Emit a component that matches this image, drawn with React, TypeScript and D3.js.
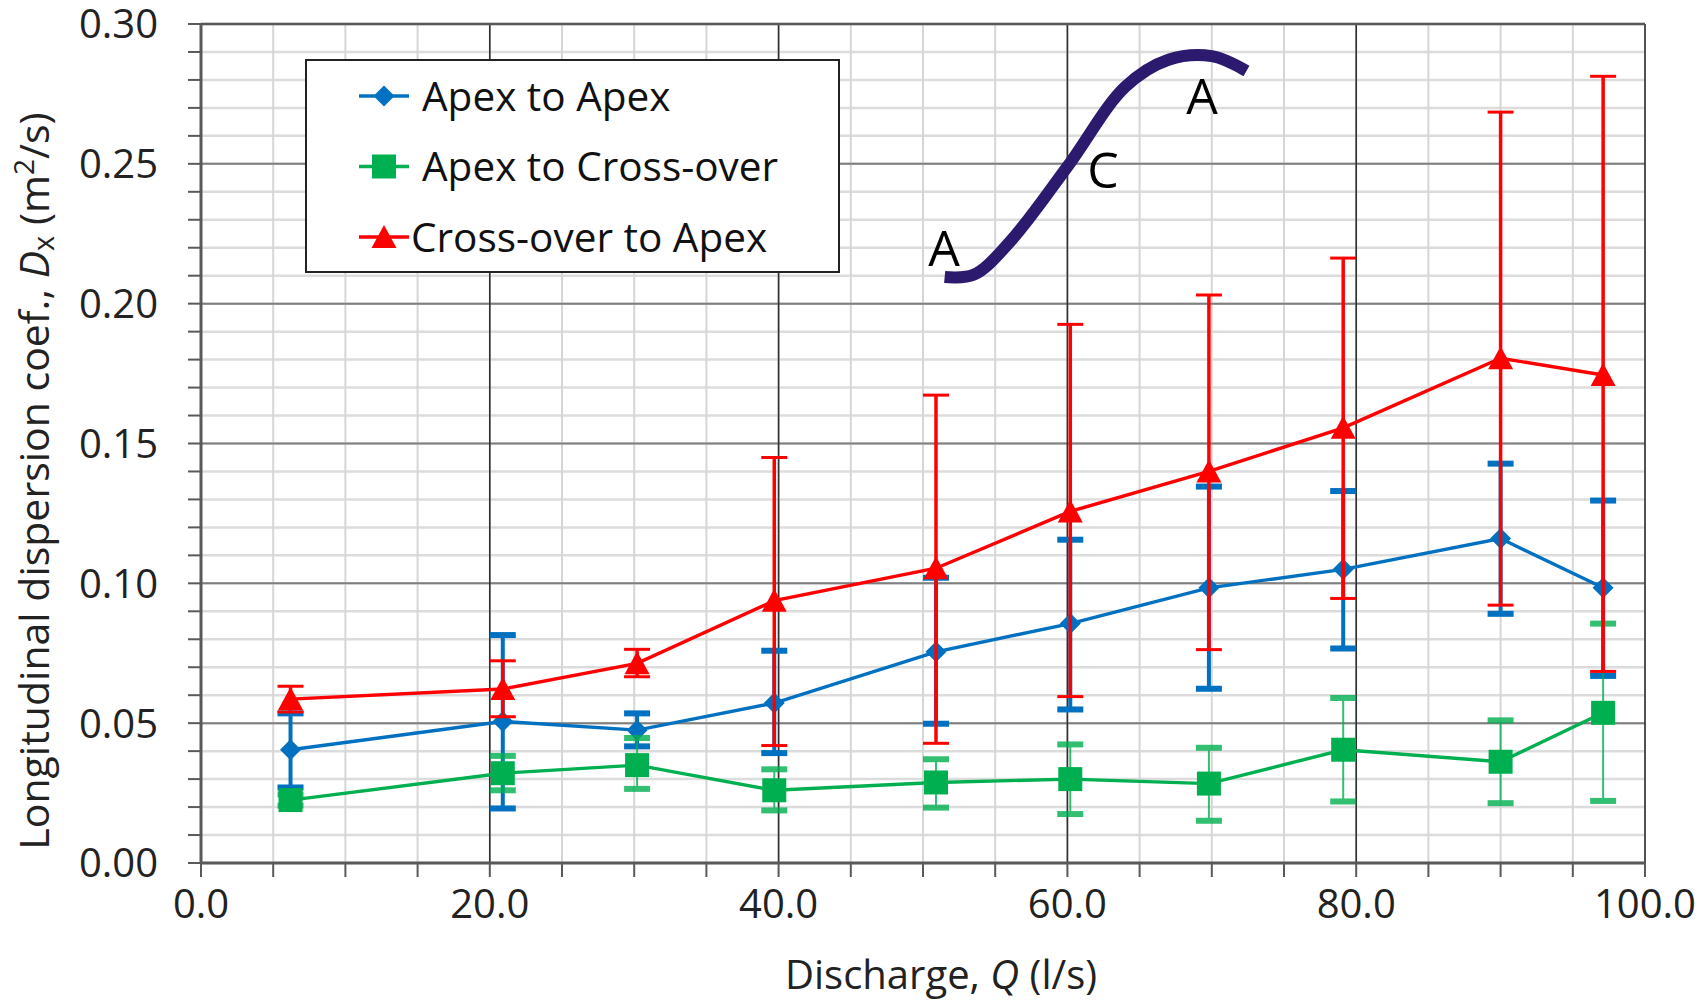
import * as d3 from 'd3';
import { FC } from 'react';

// discharge Q (l/s) for each run
const discharge = [6.2, 20.9, 30.2, 39.7, 50.9, 60.2, 69.8, 79.1, 90.0, 97.1];

// Apex to Apex
const apexToApex = [0.0405, 0.0506, 0.0475, 0.0572, 0.0755, 0.0856, 0.0984, 0.105, 0.116, 0.0984];
const apexToApexHi = [0.0535, 0.0815, 0.0535, 0.0759, 0.102, 0.1156, 0.1346, 0.133, 0.1428, 0.1296];
const apexToApexLo = [0.027, 0.0195, 0.0417, 0.0393, 0.0498, 0.0549, 0.0623, 0.0767, 0.0891, 0.0669];

// Apex to Cross-over
const apexToCross = [0.0225, 0.0321, 0.035, 0.026, 0.0288, 0.03, 0.0284, 0.0405, 0.0362, 0.0537];
const apexToCrossHi = [0.0245, 0.0383, 0.0447, 0.0335, 0.0371, 0.0424, 0.0412, 0.059, 0.051, 0.0856];
const apexToCrossLo = [0.0205, 0.026, 0.0265, 0.0188, 0.0198, 0.0175, 0.0151, 0.022, 0.0214, 0.0222];

// Cross-over to Apex
const crossToApex = [0.0586, 0.0622, 0.0714, 0.0938, 0.1054, 0.1257, 0.14, 0.1556, 0.1805, 0.1745];
const crossToApexHi = [0.0632, 0.0723, 0.0764, 0.145, 0.1673, 0.1926, 0.2031, 0.2163, 0.2685, 0.2813];
const crossToApexLo = [0.054, 0.0523, 0.0666, 0.042, 0.0428, 0.0595, 0.0763, 0.0946, 0.0922, 0.0685];

const seriesNames = ['Apex to Apex', 'Apex to Cross-over', 'Cross-over to Apex'];

// meander sketch (A - C - A), in axis units
const sketchX = [51.5, 53.5, 56, 60, 64, 67, 70, 72.4];
const sketchY = [0.2095, 0.2103, 0.222, 0.249, 0.2775, 0.2872, 0.2885, 0.2832];

const FONT = '"Open Sans", sans-serif';

type Series = {
  name: string;
  color: string;
  values: number[];
  hi: number[];
  lo: number[];
  shape: 'diamond' | 'square' | 'triangle';
  barWidth: number;
  capWidth: number;
  barOpacity: number;
};

const series: Series[] = [
  { name: seriesNames[0], color: '#0070C0', values: apexToApex, hi: apexToApexHi, lo: apexToApexLo, shape: 'diamond', barWidth: 4, capWidth: 6, barOpacity: 1 },
  { name: seriesNames[1], color: '#00B050', values: apexToCross, hi: apexToCrossHi, lo: apexToCrossLo, shape: 'square', barWidth: 2, capWidth: 6, barOpacity: 0.8 },
  { name: seriesNames[2], color: '#FF0000', values: crossToApex, hi: crossToApexHi, lo: crossToApexLo, shape: 'triangle', barWidth: 3.5, capWidth: 3, barOpacity: 1 },
];

const Marker: FC<{ shape: Series['shape']; cx: number; cy: number; color: string }> = ({ shape, cx, cy, color }) => {
  if (shape === 'diamond') {
    const r = 10.5;
    return <polygon points={`${cx},${cy - r} ${cx + r},${cy} ${cx},${cy + r} ${cx - r},${cy}`} fill={color} />;
  }
  if (shape === 'square') {
    return <rect x={cx - 12} y={cy - 12} width={24} height={24} fill={color} />;
  }
  return <polygon points={`${cx},${cy - 12} ${cx + 12.5},${cy + 11} ${cx - 12.5},${cy + 11}`} fill={color} />;
};

export default function App() {
  const width = 1706;
  const height = 1003;
  const x = d3.scaleLinear().domain([0, 100]).range([201, 1645]);
  const y = d3.scaleLinear().domain([0, 0.3]).range([863, 24]);

  const yMinor = d3.range(0, 31).map((i) => i / 100);
  const yMajor = d3.range(0, 7).map((i) => i * 0.05);
  const xMinor = d3.range(0, 21).map((i) => i * 5);
  const xMajor = d3.range(0, 6).map((i) => i * 20);
  const fmtY = d3.format('.2f');
  const fmtX = d3.format('.1f');

  const line = d3
    .line<number>()
    .x((_, i) => x(discharge[i]))
    .y((d) => y(d));

  const sketch = d3
    .line<number>()
    .x((d) => x(d))
    .y((_, i) => y(sketchY[i]))
    .curve(d3.curveCatmullRom.alpha(0.5));

  return (
    <svg width={width} height={height} style={{ position: 'absolute', left: 0, top: 0, background: '#fff' }} fontFamily={FONT}>
      {/* minor grid */}
      {yMinor.map((v) => (
        <line key={'hy' + v} x1={x(0)} x2={x(100)} y1={y(v)} y2={y(v)} stroke="#dcdcdc" strokeWidth={2.5} />
      ))}
      {xMinor.map((v) => (
        <line key={'vx' + v} x1={x(v)} x2={x(v)} y1={y(0)} y2={y(0.3)} stroke="#d6d6d6" strokeWidth={2} />
      ))}
      {/* major grid */}
      {yMajor.map((v) => (
        <line key={'Hy' + v} x1={x(0)} x2={x(100)} y1={y(v)} y2={y(v)} stroke="#7f7f7f" strokeWidth={2} />
      ))}
      {xMajor.map((v) => (
        <line key={'Vx' + v} x1={x(v)} x2={x(v)} y1={y(0)} y2={y(0.3)} stroke="#303030" strokeWidth={1.6} />
      ))}
      <line x1={x(0)} x2={x(100)} y1={y(0.3)} y2={y(0.3)} stroke="#595959" strokeWidth={2.5} />

      {/* axes */}
      <line x1={x(0)} x2={x(0)} y1={y(0)} y2={y(0.3)} stroke="#595959" strokeWidth={3} />
      <line x1={x(0)} x2={x(100)} y1={y(0)} y2={y(0)} stroke="#595959" strokeWidth={3} />
      {yMinor.map((v) => (
        <line key={'ty' + v} x1={x(0) - 13} x2={x(0)} y1={y(v)} y2={y(v)} stroke="#595959" strokeWidth={2} />
      ))}
      {xMinor.map((v) => (
        <line key={'tx' + v} x1={x(v)} x2={x(v)} y1={y(0)} y2={y(0) + 14} stroke="#595959" strokeWidth={2} />
      ))}
      {yMajor.map((v) => (
        <text key={'ly' + v} x={158} y={y(v)} dy="0.36em" textAnchor="end" fontSize={40} fill="#222">
          {fmtY(v)}
        </text>
      ))}
      {xMajor.map((v) => (
        <text key={'lx' + v} x={x(v)} y={918} textAnchor="middle" fontSize={40} fill="#222">
          {fmtX(v)}
        </text>
      ))}

      {/* axis titles */}
      <text x={941} y={989} textAnchor="middle" fontSize={40} fill="#222">
        Discharge, <tspan fontStyle="italic">Q</tspan> (l/s)
      </text>
      <text transform="translate(49,481) rotate(-90)" textAnchor="middle" fontSize={41} fill="#222">
        Longitudinal dispersion coef., <tspan fontStyle="italic">D</tspan>
        <tspan dy={5} fontSize={29}>x</tspan>
        <tspan dy={-5}> (m</tspan>
        <tspan dy={-15} fontSize={28}>2</tspan>
        <tspan dy={15}>/s)</tspan>
      </text>

      {/* series */}
      {series.map((s) => (
        <g key={s.name}>
          {discharge.map((q, i) => (
            <g key={'e' + i} stroke={s.color} opacity={s.barOpacity}>
              <line x1={x(q)} x2={x(q)} y1={y(s.lo[i])} y2={y(s.hi[i])} strokeWidth={s.barWidth} />
              <line x1={x(q) - 13} x2={x(q) + 13} y1={y(s.hi[i])} y2={y(s.hi[i])} strokeWidth={s.capWidth} />
              <line x1={x(q) - 13} x2={x(q) + 13} y1={y(s.lo[i])} y2={y(s.lo[i])} strokeWidth={s.capWidth} />
            </g>
          ))}
          <path d={line(s.values) ?? ''} fill="none" stroke={s.color} strokeWidth={3.4} />
          {discharge.map((q, i) => (
            <Marker key={'m' + i} shape={s.shape} cx={x(q)} cy={y(s.values[i])} color={s.color} />
          ))}
        </g>
      ))}

      {/* legend */}
      <rect x={306} y={60} width={533} height={212} fill="#fff" stroke="#222" strokeWidth={2} />
      {series.map((s, i) => {
        const ly = 96 + i * 70.5;
        return (
          <g key={'lg' + i}>
            <line x1={359} x2={409} y1={ly} y2={ly} stroke={s.color} strokeWidth={3.4} />
            <Marker shape={s.shape} cx={384} cy={ly} color={s.color} />
            <text x={i === 2 ? 411 : 422} y={ly} dy="0.36em" fontSize={40.5} fill="#111">
              {s.name}
            </text>
          </g>
        );
      })}

      {/* meander sketch */}
      <path d={sketch(sketchX) ?? ''} fill="none" stroke="#2B1A6E" strokeWidth={12} />
      <text x={944} y={266} textAnchor="middle" fontSize={50} fill="#000">A</text>
      <text x={1103} y={188} textAnchor="middle" fontSize={50} fill="#000">C</text>
      <text x={1202} y={114} textAnchor="middle" fontSize={50} fill="#000">A</text>
    </svg>
  );
}
